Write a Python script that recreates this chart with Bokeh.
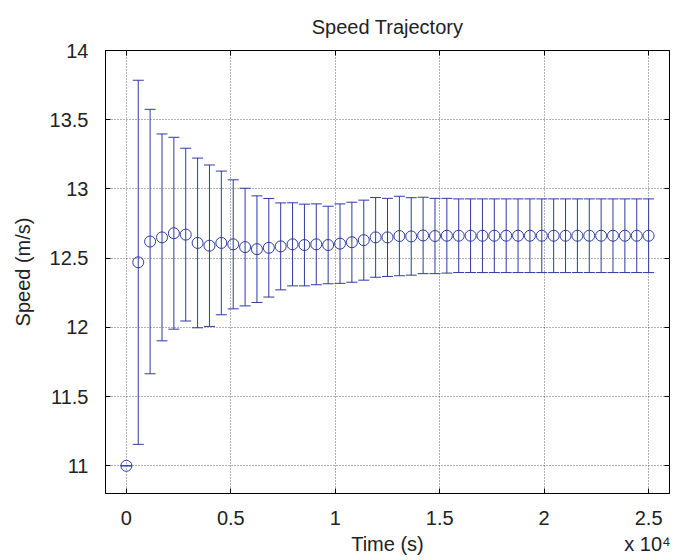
from bokeh.plotting import figure
from bokeh.models import (ColumnDataSource, Whisker, TeeHead, LinearAxis, FixedTicker,
                          Range1d)
from bokeh.embed import file_html
from bokeh.resources import INLINE

# ---- data ----
time_s = [0, 568, 1136, 1705, 2273, 2841, 3409, 3977, 4545, 5114, 5682, 6250, 6818,
          7386, 7955, 8523, 9091, 9659, 10227, 10795, 11364, 11932, 12500, 13068,
          13636, 14205, 14773, 15341, 15909, 16477, 17045, 17614, 18182, 18750,
          19318, 19886, 20455, 21023, 21591, 22159, 22727, 23295, 23864, 24432, 25000]
speed = [11.00, 12.47, 12.62, 12.65, 12.68, 12.67, 12.61, 12.59, 12.61, 12.60,
         12.58, 12.565, 12.575, 12.585, 12.60, 12.595, 12.60, 12.595, 12.605, 12.615,
         12.63, 12.65, 12.65, 12.66, 12.657, 12.664, 12.66, 12.662, 12.662, 12.662,
         12.662, 12.662, 12.662, 12.662, 12.662, 12.662, 12.662, 12.662, 12.662,
         12.662, 12.662, 12.662, 12.662, 12.662, 12.662]
speed_err = [0.0, 1.315, 0.955, 0.747, 0.693, 0.624, 0.613, 0.583, 0.519, 0.466,
             0.425, 0.385, 0.356, 0.314, 0.300, 0.295, 0.292, 0.280, 0.287, 0.289,
             0.289, 0.288, 0.282, 0.287, 0.280, 0.276, 0.272, 0.270, 0.266, 0.266,
             0.266, 0.266, 0.266, 0.266, 0.266, 0.266, 0.266, 0.266, 0.266, 0.266,
             0.266, 0.266, 0.266, 0.266, 0.266]
x_ticks = [0, 0.5, 1, 1.5, 2, 2.5]
x_tick_labels = ["0", "0.5", "1", "1.5", "2", "2.5"]
y_ticks = [11, 11.5, 12, 12.5, 13, 13.5, 14]
y_tick_labels = ["11", "11.5", "12", "12.5", "13", "13.5", "14"]
x_scale_exp = 4

title = "Speed Trajectory"
x_label = "Time (s)"
y_label = "Speed (m/s)"
x_multiplier = "x 10\u2074"

# ---- derived ----
scale = 10 ** x_scale_exp
xs = [t / scale for t in time_s]
src = ColumnDataSource(dict(
    x=xs, y=speed,
    lo=[s - e for s, e in zip(speed, speed_err)],
    hi=[s + e for s, e in zip(speed, speed_err)],
))

FONT = "Liberation Sans"
BLUE = "#2e3ba0"
TXT = "#222222"
FS = "20px"

x0, x1 = -0.1, 2.6
y0, y1 = 10.8, 14.0
W, H = 686, 560
BL, BR, BT, BB = 105, 17, 50, 67

p = figure(width=W, height=H, output_backend="svg", toolbar_location=None,
           x_range=Range1d(x0, x1), y_range=Range1d(y0, y1),
           x_axis_location=None, y_axis_location=None,
           min_border_left=BL, min_border_right=BR, min_border_top=BT, min_border_bottom=BB)

p.title.text = title
p.title.align = "center"
p.title.text_font = FONT
p.title.text_font_size = FS
p.title.text_font_style = "normal"
p.title.text_color = TXT
p.title.standoff = 25

p.outline_line_color = "black"
p.outline_line_width = 1
p.background_fill_color = "white"
p.border_fill_color = "white"


def make_axis(ticks, labels, show_labels):
    ax = LinearAxis(ticker=FixedTicker(ticks=ticks))
    ax.major_label_overrides = {t: l for t, l in zip(ticks, labels)}
    ax.major_tick_in = 5
    ax.major_tick_out = 0
    ax.minor_tick_in = 0
    ax.minor_tick_out = 0
    ax.axis_line_color = "black"
    ax.major_tick_line_color = "black"
    ax.major_label_text_font = FONT
    ax.major_label_text_font_size = FS
    ax.major_label_text_color = TXT
    if not show_labels:
        ax.major_label_text_color = None
        ax.major_label_standoff = 0
    return ax


bottom = make_axis(x_ticks, x_tick_labels, True)
bottom.major_label_standoff = 17
left = make_axis(y_ticks, y_tick_labels, True)
left.major_label_standoff = 17
left.axis_label = y_label
left.axis_label_text_font = FONT
left.axis_label_text_font_size = FS
left.axis_label_text_font_style = "normal"
left.axis_label_text_color = TXT
left.axis_label_standoff = 13
top = make_axis(x_ticks, x_tick_labels, False)
right = make_axis(y_ticks, y_tick_labels, False)

# second row below the x tick labels: axis title (centred) and the x10^4 multiplier
fw = float(W - BL - BR)
def px_to_x(px):
    return x0 + (px - BL) / fw * (x1 - x0)
row_pos = [(x0 + x1) / 2, px_to_x(647)]
row_txt = [x_label, x_multiplier]
row2 = LinearAxis(ticker=FixedTicker(ticks=row_pos))
row2.major_label_overrides = {t: l for t, l in zip(row_pos, row_txt)}
row2.axis_line_color = None
row2.major_tick_line_color = None
row2.minor_tick_line_color = None
row2.major_tick_in = 0
row2.major_tick_out = 0
row2.major_label_standoff = 5
row2.major_label_text_font = FONT
row2.major_label_text_font_size = FS
row2.major_label_text_color = TXT

p.add_layout(bottom, "below")
p.add_layout(row2, "below")
p.add_layout(left, "left")
p.add_layout(top, "above")
p.add_layout(right, "right")

p.xgrid.ticker = FixedTicker(ticks=x_ticks)
p.ygrid.ticker = FixedTicker(ticks=y_ticks)
for g in (p.xgrid, p.ygrid):
    g.grid_line_color = "black"
    g.grid_line_alpha = 0.6
    g.grid_line_dash = "1 2"
    g.grid_line_width = 1

w = Whisker(source=src, base="x", lower="lo", upper="hi",
            line_color=BLUE, line_width=1,
            upper_head=TeeHead(size=11, line_color=BLUE, line_width=1),
            lower_head=TeeHead(size=11, line_color=BLUE, line_width=1))
p.add_layout(w)

p.scatter("x", "y", source=src, marker="circle", size=11,
          fill_color=None, line_color=BLUE, line_width=1)

open("out.html", "w").write(file_html(p, INLINE))
